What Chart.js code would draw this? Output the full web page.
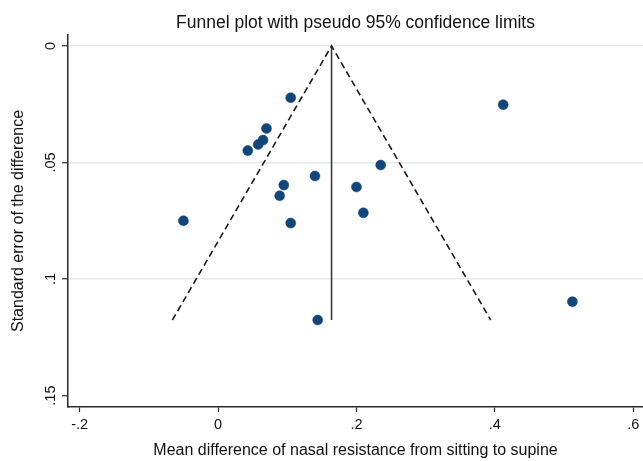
<!DOCTYPE html>
<html>
<head>
<meta charset="utf-8">
<script src="https://cdn.jsdelivr.net/npm/chart.js@4.4.1/dist/chart.umd.min.js"></script>
<style>
  html, body { margin: 0; padding: 0; background: #ffffff; }
  #wrap { width: 643px; height: 461px; position: relative; }
</style>
</head>
<body>
<div id="wrap"><canvas id="c" width="643" height="461"></canvas></div>
<script>
// ---- Data ----
const studyEffect = [0.105, 0.070, 0.065, 0.058, 0.043, 0.235, 0.140, 0.095, 0.200, 0.089, 0.210, -0.050, 0.105, 0.144, 0.412, 0.512];
const studySE     = [0.0222, 0.0354, 0.0404, 0.0423, 0.0449, 0.0511, 0.0558, 0.0597, 0.0605, 0.0643, 0.0716, 0.0750, 0.0760, 0.1176, 0.0252, 0.1097];

// pseudo 95% confidence limits (funnel) and pooled estimate line
const funnelX = [-0.066, 0.164, 0.394];
const funnelY = [0.1176, 0.0, 0.1176];
const pooledX = [0.164, 0.164];
const pooledY = [0.0, 0.1176];

// axis ticks
const xTickValues = [-0.2, 0, 0.2, 0.4, 0.6];
const xTickLabels = ['-.2', '0', '.2', '.4', '.6'];
const yTickValues = [0, 0.05, 0.1, 0.15];
const yTickLabels = ['0', '.05', '.1', '.15'];

const titleText = 'Funnel plot with pseudo 95% confidence limits';
const xTitle = 'Mean difference of nasal resistance from sitting to supine';
const yTitle = 'Standard error of the difference';

const FONT = '"Liberation Sans", Arial, Helvetica, sans-serif';
const AXIS = '#2b2b2b';

const toPts = (xs, ys) => xs.map((x, i) => ({x: x, y: ys[i]}));

const customText = {
  id: 'customText',
  afterDraw(chart) {
    const ctx = chart.ctx;
    const ca = chart.chartArea;
    const ys = chart.scales.y;
    ctx.save();
    // title centred on plot area
    ctx.fillStyle = '#111';
    ctx.font = '17.5px ' + FONT;
    ctx.textAlign = 'center';
    ctx.textBaseline = 'middle';
    ctx.fillText(titleText, (ca.left + ca.right) / 2, 23);
    // rotated y tick labels
    ctx.font = '14.5px ' + FONT;
    yTickValues.forEach((v, i) => {
      const py = ys.getPixelForValue(v);
      ctx.save();
      ctx.translate(50.5, py);
      ctx.rotate(-Math.PI / 2);
      ctx.textAlign = 'center';
      ctx.textBaseline = 'middle';
      ctx.fillText(yTickLabels[i], 0, 0);
      ctx.restore();
    });
    ctx.restore();
  }
};

new Chart(document.getElementById('c'), {
  type: 'scatter',
  data: {
    datasets: [
      {
        label: 'Studies',
        data: toPts(studyEffect, studySE),
        backgroundColor: '#12467a',
        borderColor: '#12467a',
        borderWidth: 0.5,
        pointRadius: 5,
        pointHoverRadius: 5
      },
      {
        label: 'Pseudo 95% CI',
        data: toPts(funnelX, funnelY),
        showLine: true,
        borderColor: '#1a1a1a',
        borderWidth: 1.6,
        borderDash: [6.5, 4],
        pointRadius: 0,
        fill: false
      },
      {
        label: 'Pooled',
        data: toPts(pooledX, pooledY),
        showLine: true,
        borderColor: '#333333',
        borderWidth: 1.5,
        pointRadius: 0,
        fill: false
      }
    ]
  },
  options: {
    responsive: false,
    animation: false,
    events: [],
    layout: { autoPadding: false, padding: { top: 35, right: 0, left: 0, bottom: 0 } },
    plugins: {
      legend: { display: false },
      title: { display: false },
      tooltip: { enabled: false }
    },
    scales: {
      x: {
        type: 'linear',
        min: -0.2168,
        max: 0.614,
        afterBuildTicks: (s) => { s.ticks = xTickValues.map(v => ({value: v})); },
        afterFit: (s) => { s.height = 54; s.paddingLeft = 0; s.paddingRight = 0; },
        ticks: {
          autoSkip: false,
          maxRotation: 0,
          padding: 4,
          color: '#111',
          font: { family: FONT, size: 14.5 },
          callback: (v) => { const i = xTickValues.findIndex(t => Math.abs(t - v) < 1e-9); return i >= 0 ? xTickLabels[i] : ''; }
        },
        grid: {
          drawOnChartArea: false,
          drawTicks: true,
          tickLength: 5,
          tickColor: AXIS,
          tickWidth: 1.2,
          color: AXIS
        },
        border: { display: true, color: AXIS, width: 1.5 },
        title: {
          display: true,
          text: xTitle,
          color: '#111',
          font: { family: FONT, size: 16 },
          padding: { top: 0, bottom: 1 }
        }
      },
      y: {
        type: 'linear',
        reverse: true,
        min: -0.0047,
        max: 0.1549,
        afterBuildTicks: (s) => { s.ticks = yTickValues.map(v => ({value: v})); },
        afterFit: (s) => { s.width = 68; s.paddingTop = 0; s.paddingBottom = 0; },
        ticks: {
          autoSkip: false,
          color: 'rgba(0,0,0,0)',
          font: { family: FONT, size: 14.5 },
          callback: (v) => { const i = yTickValues.findIndex(t => Math.abs(t - v) < 1e-9); return i >= 0 ? yTickLabels[i] : ''; }
        },
        grid: {
          drawOnChartArea: true,
          drawTicks: true,
          tickLength: 6,
          tickColor: AXIS,
          tickWidth: 1.2,
          lineWidth: 1.5,
          color: (c) => (c.tick && Math.abs(c.tick.value - 0.15) < 1e-9) ? 'rgba(0,0,0,0)' : '#e2eaec'
        },
        border: { display: true, color: AXIS, width: 1.5 },
        title: {
          display: true,
          text: yTitle,
          color: '#111',
          font: { family: FONT, size: 16 },
          padding: { top: 9.4, bottom: 0 }
        }
      }
    }
  },
  plugins: [customText]
});
</script>
</body>
</html>
